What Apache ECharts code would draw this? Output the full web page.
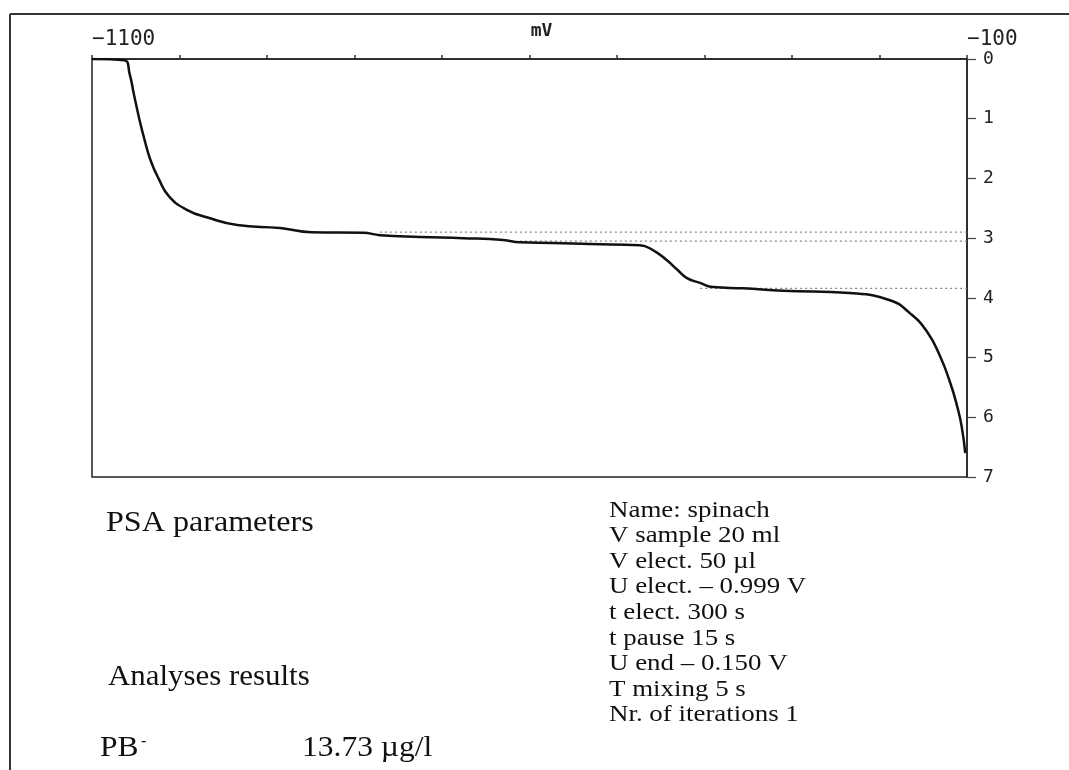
<!DOCTYPE html>
<html>
<head>
<meta charset="utf-8">
<script src="https://cdn.jsdelivr.net/npm/echarts@6/dist/echarts.min.js"></script>
<style>html,body{margin:0;padding:0;background:#fff;}#c{width:1069px;height:770px;}</style>
</head>
<body>
<div id="c"></div>
<script>
// Potential (mV) and signal
const potential = [-1100, -1063, -1057, -1052, -1046, -1040, -1033, -1024, -1012, -991, -969, -934, -885, -849, -790, -771, -725, -676, -630, -611, -573, -531, -474, -459, -443, -431, -420, -405, -390, -356, -310, -234, -188, -165, -146, -131, -119, -111, -106, -102];
const signal    = [0, 0.02, 0.25, 0.60, 1.00, 1.35, 1.70, 2.00, 2.30, 2.53, 2.65, 2.78, 2.83, 2.90, 2.91, 2.95, 2.98, 3.00, 3.03, 3.07, 3.08, 3.10, 3.12, 3.20, 3.37, 3.53, 3.67, 3.75, 3.82, 3.84, 3.88, 3.92, 4.04, 4.26, 4.56, 4.97, 5.43, 5.83, 6.16, 6.60];
// Dotted reference levels and their starting potentials
const refLevels = [2.90, 3.05, 3.84];
const refStarts = [-771, -611, -405];
const refEnd = -100;
// Axis ticks / labels
const xMin = -1100, xMax = -100, xStep = 100;
const xLabelValues = [-1100, -100];
const yMin = 0, yMax = 7, yStep = 1;
// Text blocks
const leftTitles = ['PSA parameters', 'Analyses results'];
const resultName = 'PB';
const resultValue = '13.73 µg/l';
const paramLines = ['Name: spinach', 'V sample 20 ml', 'V elect. 50 µl', 'U elect. – 0.999 V', 't elect. 300 s', 't pause 15 s', 'U end – 0.150 V', 'T mixing 5 s', 'Nr. of iterations 1'];

const chart = echarts.init(document.getElementById('c'));
const serif = '"Liberation Serif", "Times New Roman", serif';
const mono = '"DejaVu Sans Mono", "Liberation Mono", monospace';

const series = [{
  type: 'line',
  data: potential.map((p, i) => [p, signal[i]]),
  showSymbol: false,
  smooth: 0.5,
  lineStyle: { color: '#111', width: 2.5 },
  silent: true,
  z: 5
}];
refLevels.forEach((lvl, i) => {
  series.push({
    type: 'line',
    data: [[refStarts[i], lvl], [refEnd, lvl]],
    showSymbol: false,
    lineStyle: { color: '#888', width: 1.2, type: [2, 3] },
    silent: true,
    z: 3
  });
});

const graphics = [
  { type: 'line', shape: { x1: 10, y1: 14, x2: 1069, y2: 14 }, style: { stroke: '#333', lineWidth: 2 } },
  { type: 'line', shape: { x1: 10, y1: 14, x2: 10, y2: 770 }, style: { stroke: '#333', lineWidth: 2 } },
  { type: 'text', x: 106, y: 523, scaleX: 1.07, style: { text: leftTitles[0], font: '30px ' + serif, fill: '#111', verticalAlign: 'middle' } },
  { type: 'text', x: 108, y: 677, scaleX: 1.03, style: { text: leftTitles[1], font: '30px ' + serif, fill: '#111', verticalAlign: 'middle' } },
  { type: 'text', x: 100, y: 748, scaleX: 1.05, style: { text: resultName, font: '30px ' + serif, fill: '#111', verticalAlign: 'middle' } },
  { type: 'text', x: 141, y: 742, style: { text: '-', font: '16px ' + serif, fill: '#111', verticalAlign: 'middle' } },
  { type: 'text', x: 302, y: 748, scaleX: 1.05, style: { text: resultValue, font: '30px ' + serif, fill: '#111', verticalAlign: 'middle' } }
];
paramLines.forEach((t, i) => {
  graphics.push({ type: 'text', x: 609, y: 510.5 + i * 25.6, scaleX: 1.17, style: { text: t, font: '23px ' + serif, fill: '#111', verticalAlign: 'middle' } });
});

chart.setOption({
  animation: false,
  backgroundColor: '#fff',
  grid: { left: 92, right: 102, top: 59, bottom: 293, show: true, borderColor: '#222', borderWidth: 1.5 },
  xAxis: {
    type: 'value', position: 'top', min: xMin, max: xMax, interval: xStep,
    name: 'mV', nameLocation: 'middle', nameGap: 19, nameMoveOverlap: false,
    nameTextStyle: { fontFamily: mono, fontSize: 18, fontWeight: 'bold', color: '#222', padding: [0, 0, 0, 24] },
    axisLine: { show: true, lineStyle: { color: '#222', width: 1.5 } },
    axisTick: { show: true, length: 4, lineStyle: { color: '#333', width: 1.5 } },
    axisLabel: {
      show: true, showMinLabel: true, showMaxLabel: true, align: 'left', margin: 9,
      fontFamily: mono, fontSize: 21, color: '#222',
      formatter: v => xLabelValues.includes(v) ? '−' + Math.abs(v) : ''
    },
    splitLine: { show: false }
  },
  yAxis: {
    type: 'value', position: 'right', inverse: true, min: yMin, max: yMax, interval: yStep,
    axisLine: { show: true, lineStyle: { color: '#222', width: 1.5 } },
    axisTick: { show: true, length: 9, lineStyle: { color: '#444', width: 1.2 } },
    axisLabel: { show: true, margin: 16, fontFamily: mono, fontSize: 18, color: '#222' },
    splitLine: { show: false }
  },
  series: series,
  graphic: graphics
});
</script>
</body>
</html>
